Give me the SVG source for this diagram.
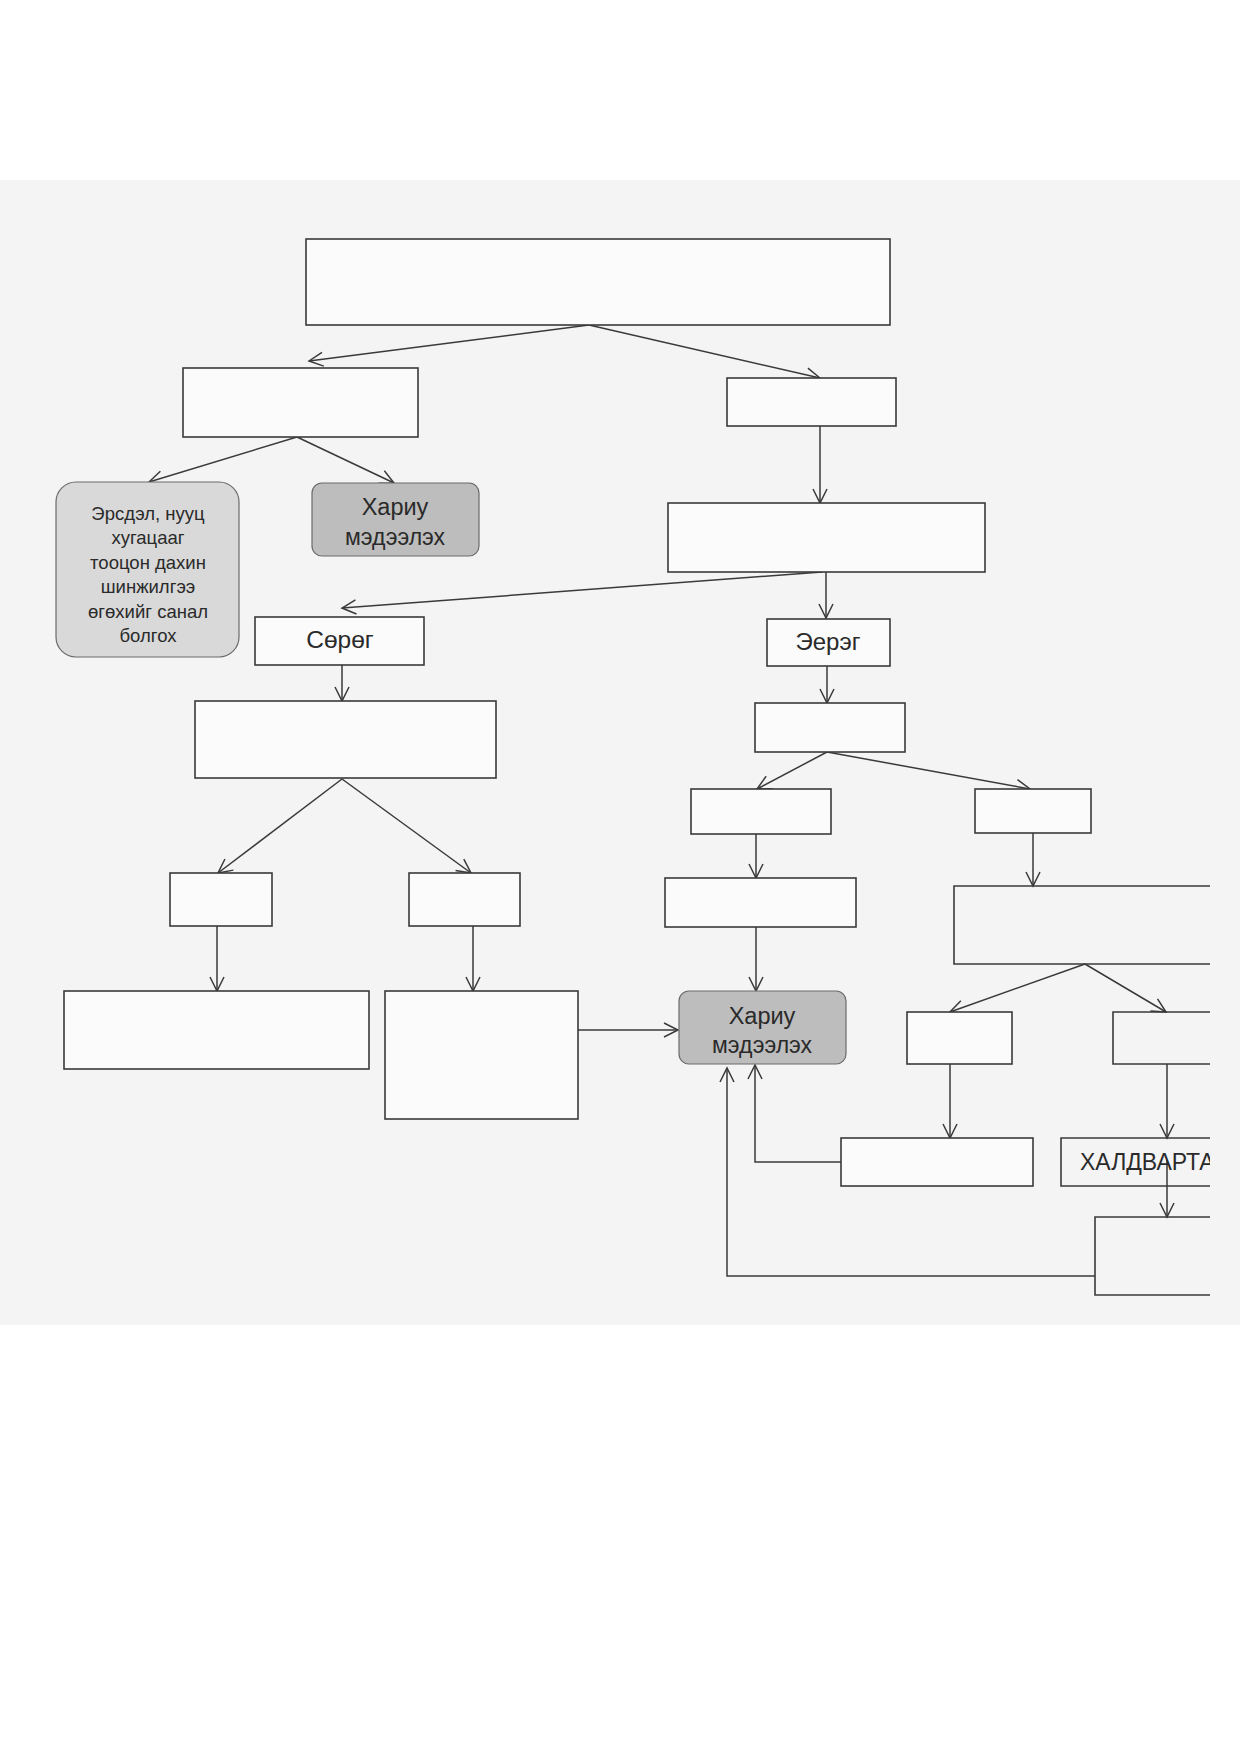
<svg xmlns="http://www.w3.org/2000/svg" width="1240" height="1753" viewBox="0 0 1240 1753">
<style>
.box{fill:#fbfbfb;stroke:#3a3a3a;stroke-width:1.6}
.open{fill:none;stroke:#3a3a3a;stroke-width:1.6}
.r1{fill:#d9d9d9;stroke:#6a6a6a;stroke-width:1.2}
.r2{fill:#bdbdbd;stroke:#6a6a6a;stroke-width:1.2}
.con{fill:none;stroke:#3a3a3a;stroke-width:1.5;marker-end:url(#ah)}
.t{font-family:"Liberation Sans",Arial,sans-serif;fill:#2a2a2a;text-anchor:middle}
</style>
<defs>
<marker id="ah" markerUnits="userSpaceOnUse" markerWidth="18" markerHeight="18" refX="15" refY="8" orient="auto" viewBox="0 0 18 16">
<path d="M1,1 L15,8 L1,15" fill="none" stroke="#3a3a3a" stroke-width="1.5"/>
</marker>
<clipPath id="pg"><rect x="0" y="0" width="1210" height="1753"/></clipPath>
</defs>
<rect x="0" y="0" width="1240" height="1753" fill="#ffffff"/>
<rect x="0" y="180" width="1240" height="1145" fill="#f4f4f4"/>

<g id="connectors">
<path class="con" d="M589,325 L309,361"/>
<path class="con" d="M589,325 L820,378"/>
<path class="con" d="M297,437 L149,482"/>
<path class="con" d="M297,437 L394,483"/>
<path class="con" d="M820,426 L820,503"/>
<path class="con" d="M822,572 L342,608"/>
<path class="con" d="M826,572 L826,618"/>
<path class="con" d="M342,665 L342,701"/>
<path class="con" d="M342,779 L218,873"/>
<path class="con" d="M342,779 L471,873"/>
<path class="con" d="M217,926 L217,991"/>
<path class="con" d="M473,926 L473,991"/>
<path class="con" d="M578,1030 L678,1030"/>
<path class="con" d="M827,666 L827,703"/>
<path class="con" d="M827,752 L757,789"/>
<path class="con" d="M827,752 L1030,789"/>
<path class="con" d="M756,834 L756,878"/>
<path class="con" d="M756,927 L756,991"/>
<path class="con" d="M1033,833 L1033,886"/>
<path class="con" d="M1085,964 L950,1012"/>
<path class="con" d="M1085,964 L1166,1012"/>
<path class="con" d="M950,1064 L950,1138"/>
<path class="con" d="M1167,1064 L1167,1138"/>
<path class="con" d="M841,1162 L755,1162 L755,1065"/>
<path class="con" d="M1167,1160 L1167,1217"/>
<path class="con" d="M1095,1276 L727,1276 L727,1068"/>
</g>

<g id="n-top"><rect class="box" x="306" y="239" width="584" height="86"/></g>
<g id="n-a"><rect class="box" x="183" y="368" width="235" height="69"/></g>
<g id="n-b"><rect class="box" x="727" y="378" width="169" height="48"/></g>
<g id="n-ersdel">
<rect class="r1" x="56" y="482" width="183" height="175" rx="20"/>
<text class="t" font-size="18.5"><tspan x="148" y="520">Эрсдэл, нууц</tspan><tspan x="148" y="544">хугацааг</tspan><tspan x="148" y="569">тооцон дахин</tspan><tspan x="148" y="593">шинжилгээ</tspan><tspan x="148" y="618">өгөхийг санал</tspan><tspan x="148" y="642">болгох</tspan></text>
</g>
<g id="n-khariu1">
<rect class="r2" x="312" y="483" width="167" height="73" rx="10"/>
<text class="t" font-size="23.5" x="395" y="515">Хариу</text>
<text class="t" font-size="23" x="395" y="545">мэдээлэх</text>
</g>
<g id="n-c"><rect class="box" x="668" y="503" width="317" height="69"/></g>
<g id="n-soreg"><rect class="box" x="255" y="617" width="169" height="48"/><text class="t" font-size="24.5" x="340" y="648">Сөрөг</text></g>
<g id="n-eereg"><rect class="box" x="767" y="619" width="123" height="47"/><text class="t" font-size="24" x="828" y="650">Эерэг</text></g>
<g id="n-d"><rect class="box" x="195" y="701" width="301" height="77"/></g>
<g id="n-e1"><rect class="box" x="170" y="873" width="102" height="53"/></g>
<g id="n-e2"><rect class="box" x="409" y="873" width="111" height="53"/></g>
<g id="n-f1"><rect class="box" x="64" y="991" width="305" height="78"/></g>
<g id="n-f2"><rect class="box" x="385" y="991" width="193" height="128"/></g>
<g id="n-g"><rect class="box" x="755" y="703" width="150" height="49"/></g>
<g id="n-h1"><rect class="box" x="691" y="789" width="140" height="45"/></g>
<g id="n-h2"><rect class="box" x="975" y="789" width="116" height="44"/></g>
<g id="n-i"><rect class="box" x="665" y="878" width="191" height="49"/></g>
<g id="n-khariu2">
<rect class="r2" x="679" y="991" width="167" height="73" rx="10"/>
<text class="t" font-size="23.5" x="762" y="1024">Хариу</text>
<text class="t" font-size="23" x="762" y="1053">мэдээлэх</text>
</g>
<g id="n-j"><path class="open" d="M1210,886 L954,886 L954,964 L1210,964"/></g>
<g id="n-k1"><rect class="box" x="907" y="1012" width="105" height="52"/></g>
<g id="n-k2"><path class="open" d="M1210,1012 L1113,1012 L1113,1064 L1210,1064"/></g>
<g id="n-l1"><rect class="box" x="841" y="1138" width="192" height="48"/></g>
<g id="n-l2"><path class="open" d="M1210,1138 L1061,1138 L1061,1186 L1210,1186"/>
<text clip-path="url(#pg)" font-family="Liberation Sans, Arial, sans-serif" font-size="23" fill="#2a2a2a" x="1080" y="1170">ХАЛДВАРТА</text></g>
<g id="n-m"><path class="open" d="M1210,1217 L1095,1217 L1095,1295 L1210,1295"/></g>
</svg>
